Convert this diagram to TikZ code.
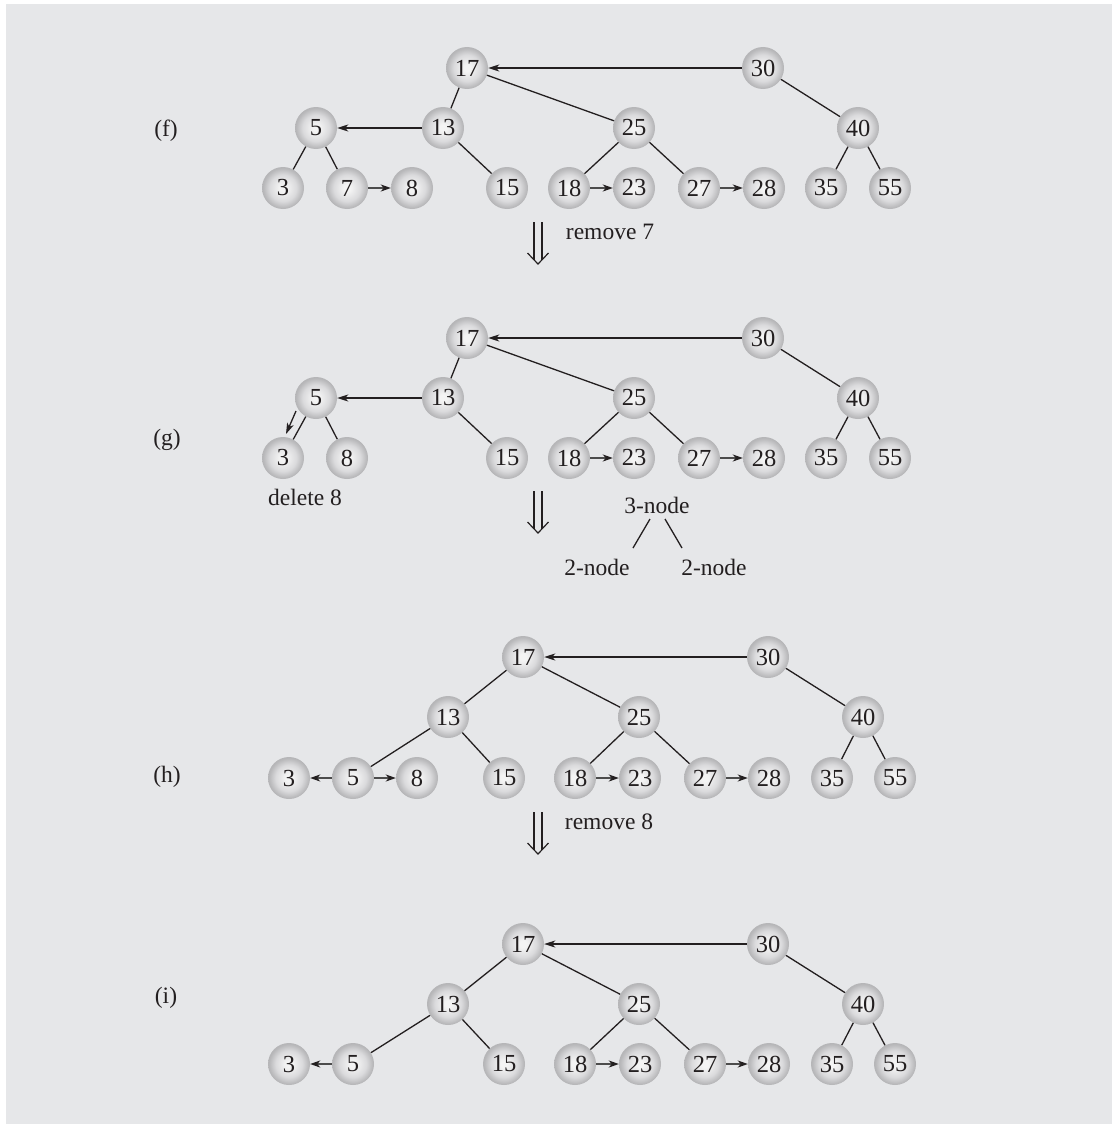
\documentclass[tikz,border=0pt]{standalone}
\usepackage{fontspec}
\setmainfont{Liberation Serif}
\usetikzlibrary{arrows.meta}
\definecolor{bg}{HTML}{E6E7E9}
\definecolor{ballin}{HTML}{F4F4F4}
\definecolor{ballmid}{HTML}{DADADC}
\definecolor{ballout}{HTML}{B6B6B8}
\definecolor{ink}{HTML}{231F20}
\pgfdeclareradialshading{ballshade}{\pgfpoint{0bp}{0bp}}{color(0bp)=(ballin); color(4bp)=(ballin); color(16bp)=(ballmid); color(24bp)=(ballout); color(25bp)=(ballout); color(50bp)=(ballout)}
\tikzset{
  ball/.style={circle, minimum size=42pt, inner sep=0pt, shading=ballshade, text=ink, font=\fontsize{24.5}{27}\selectfont},
  lbl/.style={inner sep=0pt, text=ink, font=\fontsize{23.5}{26}\selectfont},
  edge/.style={draw=ink, line width=1.3pt},
  ptr/.style={draw=ink, line width=1.3pt, -{Stealth[length=11pt,width=7pt,inset=3pt]}},
  sib/.style={draw=black!70, line width=1.8pt, -{Stealth[length=10pt,width=7pt,inset=3pt,fill=ink,color=ink]}},
  dblarrow/.pic={
    \draw[ink, line width=1.2pt] (-4,0) -- (-4,37.5);
    \draw[ink, line width=1.2pt] (4,0) -- (4,37.5);
    \draw[ink, line width=1.2pt, line join=miter] (-10.5,31) -- (0,42) -- (10.5,31);
  }
}
\begin{document}
\begin{tikzpicture}[x=1pt, y=-1pt]
\useasboundingbox (0,0) rectangle (1112,1124);
\fill[bg] (6,4) rectangle (1112,1124);

% ---------- (f) ----------
\node[lbl] (lf) at (166,131) {(f)};
\foreach \n/\x/\y in {17/467/68, 30/763/68, 5/316/128, 13/443/128, 25/634/128, 40/858/128,
  3/283/188, 7/347/188, 8/412/188, 15/507/188, 18/569/188, 23/634/188, 27/699/188, 28/764/188, 35/826/188, 55/890/188}
  \node[ball] (f\n) at (\x,\y) {\n};
\foreach \a/\b in {17/13, 17/25, 30/40, 5/3, 5/7, 13/15, 25/18, 25/27, 40/35, 40/55}
  \draw[edge] (f\a) -- (f\b);
\draw[ptr] (f30) -- (f17);
\draw[ptr] (f13) -- (f5);
\draw[sib] (f7) -- (f8);
\draw[sib] (f18) -- (f23);
\draw[sib] (f27) -- (f28);
\pic at (538,222) {dblarrow};
\node[lbl] (rm7) at (610,232) {remove 7};

% ---------- (g) ----------
\node[lbl] (lg) at (167,440) {(g)};
\foreach \n/\x/\y in {17/467/338, 30/763/338, 5/316/398, 13/443/398, 25/634/398, 40/858/398,
  3/283/458, 8/347/458, 15/507/458, 18/569/458, 23/634/458, 27/699/458, 28/764/458, 35/826/458, 55/890/458}
  \node[ball] (g\n) at (\x,\y) {\n};
\foreach \a/\b in {17/13, 17/25, 30/40, 5/3, 5/8, 13/15, 25/18, 25/27, 40/35, 40/55}
  \draw[edge] (g\a) -- (g\b);
\draw[ptr] (g30) -- (g17);
\draw[ptr] (g13) -- (g5);
\draw[sib] (g18) -- (g23);
\draw[sib] (g27) -- (g28);
\coordinate (gs) at (296,411);
\coordinate (ge) at (286,434);
\draw[ptr] (gs) -- (ge);
\node[lbl] (del8) at (305,497) {delete 8};
\pic at (538,491) {dblarrow};
\node[lbl] (n3) at (657,505) {3-node};
\node[lbl] (n2a) at (597,567) {2-node};
\node[lbl] (n2b) at (714,567) {2-node};
\coordinate (t1a) at (650,519); \coordinate (t1b) at (633,548);
\coordinate (t2a) at (665,519); \coordinate (t2b) at (682,548);
\draw[edge] (t1a) -- (t1b);
\draw[edge] (t2a) -- (t2b);

% ---------- (h) ----------
\node[lbl] (lh) at (167,777) {(h)};
\foreach \n/\x/\y in {17/523/657, 30/768/657, 13/448/717, 25/639/717, 40/863/717,
  3/289/778, 5/353/778, 8/417/778, 15/504/778, 18/575/778, 23/640/778, 27/705/778, 28/769/778, 35/832/778, 55/895/778}
  \node[ball] (h\n) at (\x,\y) {\n};
\foreach \a/\b in {17/13, 17/25, 30/40, 13/5, 13/15, 25/18, 25/27, 40/35, 40/55}
  \draw[edge] (h\a) -- (h\b);
\draw[ptr] (h30) -- (h17);
\draw[sib] (h5) -- (h3);
\draw[sib] (h5) -- (h8);
\draw[sib] (h18) -- (h23);
\draw[sib] (h27) -- (h28);
\pic at (538,812) {dblarrow};
\node[lbl] (rm8) at (609,822) {remove 8};

% ---------- (i) ----------
\node[lbl] (li) at (166,998) {(i)};
\foreach \n/\x/\y in {17/523/944, 30/768/944, 13/448/1004, 25/639/1004, 40/863/1004,
  3/289/1064, 5/353/1064, 15/504/1064, 18/575/1064, 23/640/1064, 27/705/1064, 28/769/1064, 35/832/1064, 55/895/1064}
  \node[ball] (i\n) at (\x,\y) {\n};
\foreach \a/\b in {17/13, 17/25, 30/40, 13/5, 13/15, 25/18, 25/27, 40/35, 40/55}
  \draw[edge] (i\a) -- (i\b);
\draw[ptr] (i30) -- (i17);
\draw[sib] (i5) -- (i3);
\draw[sib] (i18) -- (i23);
\draw[sib] (i27) -- (i28);
\end{tikzpicture}
\end{document}
